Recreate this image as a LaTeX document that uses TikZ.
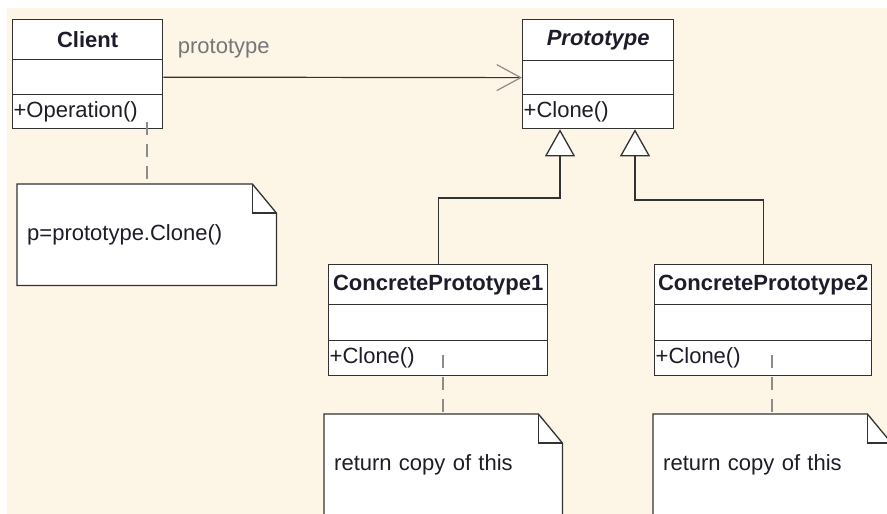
\documentclass[tikz,border=0pt]{standalone}
\usepackage{fontspec}
\setmainfont{Liberation Sans}
\usetikzlibrary{arrows.meta,backgrounds}
\definecolor{paper}{RGB}{253,245,230}
\definecolor{ink}{RGB}{28,28,42}
\definecolor{edge}{RGB}{50,50,50}
\definecolor{dashgray}{RGB}{140,140,140}
\definecolor{labelgray}{RGB}{118,118,118}

\begin{document}
\begin{tikzpicture}[x=1pt,y=-1pt,
  every node/.style={font=\fontsize{22}{26}\selectfont, text=ink, inner sep=0pt},
  cell/.style={draw=edge, line width=1.3pt, fill=white, anchor=north west},
  titlecell/.style={cell, font=\fontsize{22}{26}\selectfont\bfseries},
  abstractcell/.style={cell, font=\fontsize{22}{26}\selectfont\bfseries\itshape},
  opcell/.style={cell, inner xsep=1pt, align=left},
  notetext/.style={anchor=north west, inner xsep=10pt, align=left},
  noteshape/.style={draw=edge, line width=1.3pt, fill=white, line join=miter},
  notelink/.style={draw=dashgray, line width=1.3pt, dash pattern=on 13pt off 9pt},
  assoc/.style={draw=edge, line width=1.2pt,
    -{Straight Barb[length=24pt, width=26pt, color=dashgray]}},
  gen/.style={draw=edge, line width=1.3pt,
    -{Triangle[open, length=27pt, width=30pt, fill=white]}}]

\useasboundingbox (0,0) rectangle (887,514);

% Client class
\node[titlecell, minimum width=150pt, minimum height=40pt] (ct) at (12,19) {Client};
\node[cell, minimum width=150pt, minimum height=35pt] (ca) at (12,59) {};
\node[opcell, minimum width=150pt, minimum height=34pt, text width=148pt] (co) at (12,94) {+Operation()};

% Prototype class
\node[abstractcell, minimum width=151pt, minimum height=41pt] (pt) at (522,19) {Prototype};
\node[cell, minimum width=151pt, minimum height=34pt] (pa) at (522,60) {};
\node[opcell, minimum width=151pt, minimum height=34pt, text width=149pt] (po) at (522,94) {+Clone()};

% ConcretePrototype1 class
\node[titlecell, minimum width=219pt, minimum height=40pt] (at) at (328,264) {ConcretePrototype1};
\node[cell, minimum width=219pt, minimum height=36pt] (aa) at (328,304) {};
\node[opcell, minimum width=219pt, minimum height=35pt, text width=217pt] (ao) at (328,340) {+Clone()};

% ConcretePrototype2 class
\node[titlecell, minimum width=217pt, minimum height=40pt] (bt) at (654,264) {ConcretePrototype2};
\node[cell, minimum width=217pt, minimum height=36pt] (ba) at (654,304) {};
\node[opcell, minimum width=217pt, minimum height=35pt, text width=215pt] (bo) at (654,340) {+Clone()};

% Note texts
\node[notetext, minimum width=259pt, minimum height=101pt, text width=239pt] (n1) at (17,184) {p=prototype.Clone()};
\node[notetext, minimum width=238pt, minimum height=102pt, text width=218pt] (n2) at (324,414) {return copy of this};
\node[notetext, minimum width=238pt, minimum height=102pt, text width=218pt] (n3) at (653,414) {return copy of this};

% Background and note outlines with folded corner
\begin{pgfonlayer}{background}
  \clip (0,0) rectangle (887,514);
  \fill[white] (0,0) rectangle (887,514);
  \fill[paper] (7,8) rectangle (887,514);
  \foreach \n in {n1,n2,n3} {
    \draw[noteshape] (\n.south west) -- (\n.north west)
      -- ([xshift=-24pt]\n.north east) -- ([yshift=-29pt]\n.north east)
      -- (\n.south east) -- cycle;
    \draw[draw=edge, line width=1.3pt]
      ([xshift=-24pt]\n.north east) |- ([yshift=-29pt]\n.north east);
  }
\end{pgfonlayer}

% Association Client -> Prototype
\draw[assoc] (ca.east) -- (pa.west)
  node[pos=0, anchor=west, xshift=14pt, yshift=28pt, text=labelgray] (lbl) {prototype};

% Generalizations
\coordinate (j1) at (560,198);
\coordinate (j2) at (635,200);
\draw[gen] (at.north) |- (j1) -- (j1 |- po.south);
\draw[gen] (bt.north) |- (j2) -- (j2 |- po.south);

% Note anchors
\coordinate (d1) at (147,122);
\coordinate (d2) at (443,355);
\coordinate (d3) at (772,355);
\draw[notelink] (d1) -- (d1 |- n1.north);
\draw[notelink] (d2) -- (d2 |- n2.north);
\draw[notelink] (d3) -- (d3 |- n3.north);

\end{tikzpicture}
\end{document}
